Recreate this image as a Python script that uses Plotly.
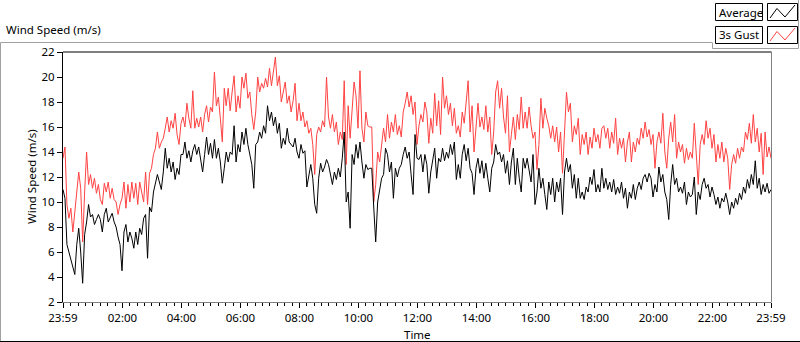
import pandas as pd
import plotly.graph_objects as go

# ---------------- data (4-minute steps from 23:59) ----------------
start_time = "2020-01-01 23:59"
step = "4min"

average = [
    11.0, 10.3, 6.6, 6.0, 5.2, 4.7, 4.2, 6.6, 7.9, 6.0,
    3.5, 7.4, 8.4, 9.8, 8.8, 9.0, 8.2, 8.6, 9.0, 8.6,
    7.6, 9.0, 9.5, 8.4, 8.8, 9.1, 8.4, 8.0, 7.2, 6.6,
    4.5, 7.6, 8.2, 6.8, 7.6, 7.1, 6.3, 7.6, 6.6, 7.9,
    7.4, 8.7, 9.0, 5.5, 9.6,
    9.2, 10.8, 11.4, 12.2, 11.6, 11.0, 12.4, 14.3, 12.7, 13.5,
    12.4, 13.2, 11.8, 12.7, 12.2, 13.8, 13.8, 14.8, 13.5, 14.1,
    13.2, 14.1, 14.6, 13.8, 14.4, 13.3, 12.4, 13.8, 15.2, 13.8,
    14.7, 13.5, 15.0, 13.5, 14.3, 13.2, 11.5, 12.7, 14.0, 13.2,
    14.0, 13.8, 16.1, 13.2, 14.6,
    14.0, 15.6, 14.6, 15.9, 14.6, 13.8, 13.0, 11.1, 14.6, 14.8,
    15.6, 15.1, 16.1, 15.5, 17.7, 16.5, 17.2, 16.1, 16.8, 15.5,
    16.3, 14.3, 15.1, 14.6, 15.9, 14.8, 14.6, 14.4, 15.1, 14.0,
    13.5, 14.6, 13.9, 14.1, 11.2, 12.3, 13.0, 11.9, 9.8, 9.1,
    11.9, 13.1, 12.4, 12.8, 13.4, 13.0,
    12.2, 11.4, 12.4, 11.8, 12.7, 12.0, 13.5, 15.6, 10.0, 10.8,
    7.9, 13.8, 13.0, 14.6, 13.5, 14.8, 13.2, 11.9, 13.0, 12.6,
    12.7, 12.7, 9.6, 6.8, 10.0, 11.1, 11.9, 12.2, 14.3, 13.8,
    12.4, 13.2, 10.3, 12.7, 12.0, 12.7, 13.0, 13.8, 14.4, 13.5,
    14.0, 12.2, 10.6, 15.4, 13.5, 13.4,
    13.8, 12.4, 13.8, 13.0, 10.7, 12.4, 13.2, 14.3, 11.9, 13.5,
    13.2, 14.3, 13.3, 14.0, 13.5, 14.6, 13.8, 14.8, 11.8, 13.0,
    11.9, 13.8, 14.6, 13.3, 14.3, 12.7, 12.3, 10.6, 12.7, 13.5,
    12.3, 13.3, 11.9, 13.1, 11.9, 10.8, 12.7, 13.2, 14.6, 13.8,
    14.0, 13.2, 13.8, 12.3, 13.3, 11.4,
    13.2, 14.3, 11.4, 13.5, 11.9, 10.8, 13.5, 12.7, 13.5, 12.7,
    11.6, 13.8, 9.8, 10.8, 12.7, 11.1, 11.9, 10.6, 9.4, 11.6,
    10.6, 11.9, 10.0, 11.6, 10.8, 11.9, 9.0, 12.4, 13.5, 12.4,
    13.0, 11.1, 12.2, 10.3, 11.9, 10.3, 10.8, 10.2, 11.2, 10.8,
    12.0, 11.4, 12.6, 10.8, 11.4, 10.8,
    12.7, 11.1, 11.9, 11.0, 11.6, 10.8, 11.8, 10.6, 11.2, 10.7,
    11.6, 10.3, 11.1, 9.5, 10.8, 10.3, 11.4, 10.2, 11.1, 11.6,
    11.0, 11.9, 12.2, 11.6, 12.3, 11.9, 10.4, 11.4, 10.8, 12.8,
    11.6, 12.2, 10.8, 10.2, 8.6, 11.4, 13.0, 11.4, 11.9, 10.8,
    11.2, 10.7, 11.6, 9.8, 10.8, 10.4,
    10.6, 12.0, 9.0, 10.8, 10.2, 11.4, 11.9, 11.1, 11.4, 10.4,
    11.2, 10.6, 9.8, 10.4, 9.5, 10.3, 10.0, 10.7, 10.0, 9.0,
    10.0, 9.5, 10.3, 9.8, 10.7, 10.2, 11.2, 10.7, 11.8, 11.1,
    12.2, 11.4, 13.3, 11.1, 11.9, 10.6, 11.4, 10.8, 11.5, 10.7,
    11.0,
]

gust_3s = [
    13.5, 14.4, 9.8, 8.7, 9.5, 7.6, 9.2, 10.6, 12.4, 11.1,
    6.8, 10.8, 14.0, 11.4, 12.2, 11.1, 11.9, 10.7, 11.4, 10.2,
    9.8, 11.5, 10.8, 11.6, 10.3, 11.1, 10.2, 10.0, 9.0, 9.8,
    10.3, 11.6, 9.5, 11.4, 10.0, 11.6, 10.3, 11.5, 9.8, 11.6,
    10.8, 10.0, 12.4, 9.8, 12.3,
    12.7, 13.8, 14.3, 15.6, 14.3, 14.8, 15.1, 15.9, 16.8, 15.6,
    16.5, 15.9, 17.1, 15.4, 14.6, 16.3, 16.8, 16.0, 17.9, 16.7,
    15.9, 18.9, 15.9, 16.7, 16.0, 16.8, 15.6, 17.0, 17.7, 16.4,
    17.6, 17.2, 20.4, 17.7, 18.4, 16.7, 14.8, 19.1, 17.7, 19.1,
    17.3, 18.8, 20.1, 17.2, 18.5,
    17.5, 20.0, 19.1, 20.3, 18.3, 18.8, 17.0, 15.8, 17.2, 20.0,
    18.8, 19.5, 19.1, 19.9, 19.2, 20.7, 19.3, 20.4, 21.6, 19.3,
    20.1, 18.0, 18.8, 19.6, 17.9, 18.5, 17.2, 18.1, 19.5, 16.5,
    17.9, 16.5, 17.2, 16.0, 16.5, 15.5, 15.9, 14.6, 12.2, 15.4,
    16.0, 15.6, 16.5, 16.0, 20.0, 16.8,
    15.9, 17.0, 15.6, 16.4, 14.6, 15.6, 15.0, 19.7, 13.0, 17.7,
    15.1, 17.7, 19.6, 18.5, 15.9, 20.5, 15.9, 14.8, 17.2, 16.1,
    16.0, 16.0, 10.0, 11.4, 14.0, 13.2, 14.8, 15.9, 14.8, 17.0,
    15.1, 16.4, 15.6, 17.0, 15.4, 16.1, 15.2, 17.2, 17.9, 18.8,
    17.6, 18.5, 17.0, 18.0, 14.6, 16.1,
    17.0, 16.4, 18.0, 17.2, 14.7, 16.7, 15.5, 18.7, 16.1, 18.1,
    15.4, 20.0, 17.5, 18.5, 17.0, 17.9, 16.1, 17.5, 15.5, 16.1,
    15.2, 17.2, 16.3, 18.3, 19.7, 15.6, 17.7, 14.0, 15.9, 17.9,
    16.0, 16.8, 15.8, 17.7, 15.6, 16.8, 13.8, 15.6, 18.8, 19.7,
    17.5, 19.1, 16.8, 15.5, 18.5, 14.0,
    15.4, 16.8, 15.0, 17.0, 15.8, 18.4, 15.9, 17.2, 15.9, 17.6,
    16.1, 15.1, 15.6, 12.6, 14.6, 18.3, 15.9, 17.5, 16.7, 16.1,
    15.1, 16.1, 14.8, 16.0, 14.0, 15.6, 12.3, 15.1, 18.8, 17.2,
    17.9, 14.8, 16.1, 15.4, 16.7, 13.8, 15.4, 14.6, 15.6, 13.8,
    15.2, 14.3, 15.9, 14.8, 15.4, 14.3,
    15.9, 16.1, 15.1, 15.9, 14.3, 15.6, 14.7, 16.7, 13.8, 15.1,
    14.3, 15.1, 13.2, 14.8, 15.6, 13.2, 14.8, 14.0, 15.1, 14.6,
    15.9, 15.1, 16.4, 15.2, 15.8, 14.6, 15.4, 12.7, 14.8, 15.6,
    14.7, 17.1, 14.0, 12.7, 15.1, 16.4, 14.8, 17.0, 13.5, 14.8,
    14.0, 14.6, 13.1, 14.3, 13.4, 14.0,
    13.5, 16.3, 13.8, 11.4, 14.6, 15.4, 14.6, 16.5, 15.1, 15.9,
    14.3, 15.4, 13.2, 14.6, 13.5, 14.8, 13.2, 14.3, 13.5, 11.0,
    13.0, 13.8, 13.1, 14.3, 13.5, 14.4, 14.0, 15.6, 15.0, 16.3,
    14.7, 17.0, 14.8, 15.9, 14.0, 15.5, 12.2, 15.6, 13.6, 14.4,
    13.5,
]

tick_times = [
    "2020-01-01 23:59", "2020-01-02 02:00", "2020-01-02 04:00", "2020-01-02 06:00",
    "2020-01-02 08:00", "2020-01-02 10:00", "2020-01-02 12:00", "2020-01-02 14:00",
    "2020-01-02 16:00", "2020-01-02 18:00", "2020-01-02 20:00", "2020-01-02 22:00",
    "2020-01-02 23:59",
]
tick_labels = ["23:59", "02:00", "04:00", "06:00", "08:00", "10:00", "12:00",
               "14:00", "16:00", "18:00", "20:00", "22:00", "23:59"]
y_ticks = [2, 4, 6, 8, 10, 12, 14, 16, 18, 20, 22]

times = pd.date_range(start_time, periods=len(average), freq=step)

# ---------------- layout geometry ----------------
W, H = 800, 342
L, R, T, B = 63, 29, 52, 40
PW, PH = W - L - R, H - T - B


def px(x):
    return (x - L) / PW


def py(y):
    return (H - B - y) / PH


FONT = "Noto Sans"
FS = 11.5
RED = "#ff4242"

fig = go.Figure()
fig.add_trace(go.Scatter(x=times, y=gust_3s, mode="lines", name="3s Gust",
                         line=dict(color=RED, width=1), showlegend=False))
fig.add_trace(go.Scatter(x=times, y=average, mode="lines", name="Average",
                         line=dict(color="black", width=1), showlegend=False))

shapes = []


def seg(x0, y0, x1, y1, color, w=1):
    shapes.append(dict(type="line", xref="paper", yref="paper",
                       x0=px(x0), y0=py(y0), x1=px(x1), y1=py(y1),
                       line=dict(color=color, width=w), layer="above"))


def rect(x0, y0, x1, y1, color="black", fill="white"):
    shapes.append(dict(type="rect", xref="paper", yref="paper",
                       x0=px(x0), y0=py(y0), x1=px(x1), y1=py(y1),
                       line=dict(color=color, width=1), fillcolor=fill, layer="above"))


def poly(points, color):
    d = "M " + " L ".join(f"{px(a):.5f},{py(b):.5f}" for a, b in points)
    shapes.append(dict(type="path", xref="paper", yref="paper", path=d,
                       line=dict(color=color, width=1), layer="above"))


# plot frame
seg(63, 52, 771.5, 52, "black")
seg(771.5, 52, 771.5, 302.5, "#808080")
# outer panel frame
seg(0.5, 42.5, 712, 42.5, "#a0a0a0")
seg(0.5, 42.5, 0.5, 342, "#a0a0a0")
seg(0, 341.5, 800, 341.5, "black")
# legend panel
seg(712.5, 42.5, 712.5, 48.5, "#a0a0a0")
seg(712.5, 48.5, 798.5, 48.5, "#a0a0a0")
seg(798.5, 0, 798.5, 48.5, "#a0a0a0")
rect(715.5, 3.5, 762.5, 20.5)
rect(767.5, 3.5, 797.5, 20.5)
rect(715.5, 26.5, 762.5, 43.5)
rect(767.5, 26.5, 797.5, 43.5)
poly([(770, 18), (777, 8.5), (785, 17), (795, 5)], "black")
poly([(770, 41), (777, 31.5), (785, 40), (795, 28)], RED)

annotations = [
    dict(text="Wind Speed (m/s)", x=px(4), y=py(30), xanchor="left", yanchor="middle"),
    dict(text="Wind Speed (m/s)", x=px(31), y=py(177), xanchor="center", yanchor="middle",
         textangle=-90),
    dict(text="Time", x=px(417), y=py(334), xanchor="center", yanchor="middle"),
    dict(text="Average", x=px(717), y=py(12), xanchor="left", yanchor="middle"),
    dict(text="3s Gust", x=px(717), y=py(35), xanchor="left", yanchor="middle"),
]
for a in annotations:
    a.update(xref="paper", yref="paper", showarrow=False,
             font=dict(family=FONT, size=FS, color="black"))

fig.update_layout(
    width=W, height=H,
    margin=dict(l=L, r=R, t=T, b=B, pad=0),
    paper_bgcolor="white", plot_bgcolor="white",
    font=dict(family=FONT, size=FS, color="black"),
    shapes=shapes, annotations=annotations,
    showlegend=False,
)
fig.update_xaxes(
    range=[tick_times[0], tick_times[-1]],
    tickmode="array", tickvals=tick_times, ticktext=tick_labels,
    ticks="outside", ticklen=5, tickcolor="black", tickwidth=1,
    showline=True, linecolor="#808080", linewidth=1,
    showgrid=False, zeroline=False,
    tickfont=dict(family=FONT, size=FS, color="black"),
    minor=dict(tickmode="linear", tick0="2020-01-02 00:00", dtick=15 * 60 * 1000,
               ticks="outside", ticklen=3, tickcolor="black", showgrid=False),
)
fig.update_yaxes(
    range=[2, 22], tickmode="array", tickvals=y_ticks,
    ticks="outside", ticklen=5, tickcolor="black", tickwidth=1,
    showline=True, linecolor="black", linewidth=1,
    showgrid=False, zeroline=False,
    tickfont=dict(family=FONT, size=FS, color="black"),
)

fig.write_html(
    "out.html",
    config={"displayModeBar": False},
    post_script="document.body.style.margin='0';document.body.style.overflow='hidden';",
)
